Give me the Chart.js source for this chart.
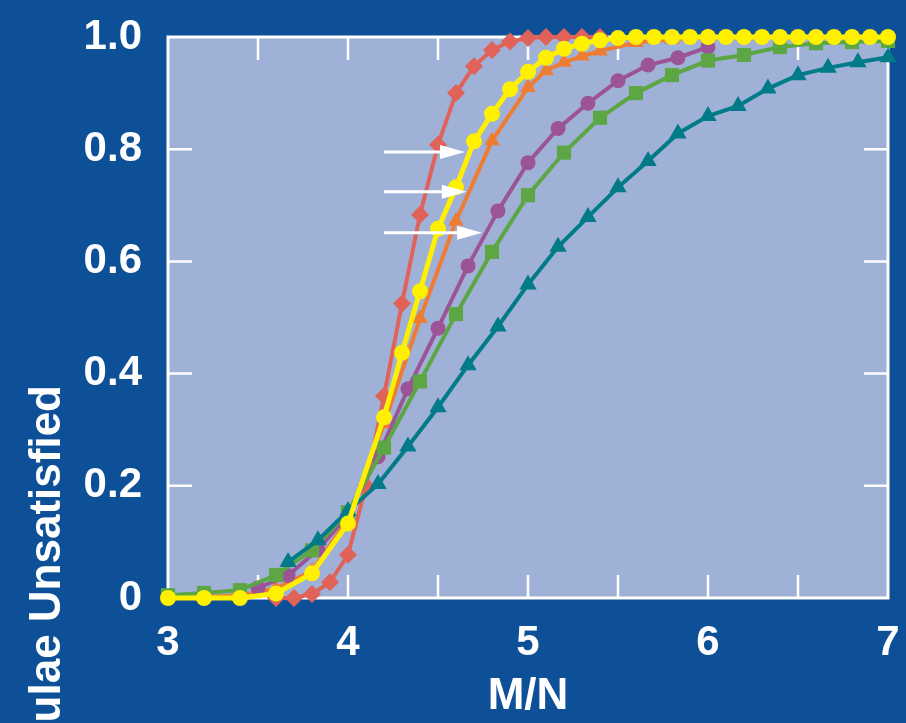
<!DOCTYPE html>
<html>
<head>
<meta charset="utf-8">
<script src="https://cdn.jsdelivr.net/npm/chart.js@4.4.1/dist/chart.umd.min.js"></script>
<style>
  html, body { margin: 0; padding: 0; background: #0e5098; }
  canvas { display: block; }
</style>
</head>
<body>
<canvas id="chart" width="906" height="723"></canvas>
<script>
// tick labels
const xTickLabels = ["3", "4", "5", "6", "7"];
const yTickLabels = ["0", "0.2", "0.4", "0.6", "0.8", "1.0"];

// red diamonds
const redX = [3.6, 3.7, 3.8, 3.9, 4.0, 4.1, 4.2, 4.3, 4.4, 4.5, 4.6, 4.7, 4.8, 4.9, 5.0, 5.1, 5.2, 5.3, 5.4];
const redY = [0, 0, 0.007, 0.028, 0.077, 0.2, 0.36, 0.525, 0.683, 0.808, 0.9, 0.948, 0.977, 0.992, 0.998, 1, 1, 1, 1];

// yellow circles
const yellowX = [3.0, 3.2, 3.4, 3.6, 3.8, 4.0, 4.2, 4.3, 4.4, 4.5, 4.6, 4.7, 4.8, 4.9, 5.0, 5.1, 5.2, 5.3, 5.4, 5.5,
  5.6, 5.7, 5.8, 5.9, 6.0, 6.1, 6.2, 6.3, 6.4, 6.5, 6.6, 6.7, 6.8, 6.9, 7.0];
const yellowY = [0, 0, 0, 0.008, 0.044, 0.133, 0.322, 0.437, 0.547, 0.658, 0.732, 0.814, 0.863, 0.907, 0.938, 0.963, 0.979, 0.988, 0.994, 0.998,
  1, 1, 1, 1, 1, 1, 1, 1, 1, 1, 1, 1, 1, 1, 1];

// orange triangles
const orangeX = [3.2, 3.4, 3.6, 3.8, 4.0, 4.2, 4.4, 4.6, 4.8, 5.0, 5.1, 5.2, 5.3, 5.4, 5.6, 5.8, 6.0];
const orangeY = [0.002, 0.005, 0.017, 0.048, 0.14, 0.31, 0.498, 0.672, 0.815, 0.91, 0.94, 0.955, 0.966, 0.975, 0.99, 0.996, 1];

// purple circles
const purpleX = [3.5, 3.667, 3.833, 4.0, 4.167, 4.333, 4.5, 4.667, 4.833, 5.0, 5.167, 5.333, 5.5, 5.667, 5.833, 6.0];
const purpleY = [0.018, 0.04, 0.086, 0.148, 0.252, 0.373, 0.481, 0.592, 0.69, 0.776, 0.837, 0.882, 0.922, 0.95, 0.963, 0.982];

// green squares
const greenX = [3.0, 3.2, 3.4, 3.6, 3.8, 4.0, 4.2, 4.4, 4.6, 4.8, 5.0, 5.2, 5.4, 5.6, 5.8, 6.0, 6.2, 6.4, 6.6, 6.8, 7.0];
const greenY = [0.005, 0.009, 0.014, 0.041, 0.085, 0.153, 0.268, 0.386, 0.506, 0.617, 0.718, 0.794, 0.856, 0.9, 0.932, 0.958, 0.968, 0.982, 0.989, 0.991, 0.993];

// teal triangles
const tealX = [3.667, 3.833, 4.0, 4.167, 4.333, 4.5, 4.667, 4.833, 5.0, 5.167, 5.333, 5.5, 5.667, 5.833, 6.0, 6.167, 6.333, 6.5, 6.667, 6.833, 7.0];
const tealY = [0.064, 0.103, 0.155, 0.203, 0.27, 0.34, 0.415, 0.484, 0.559, 0.626, 0.679, 0.732, 0.779, 0.828, 0.859, 0.877, 0.908, 0.932, 0.945, 0.955, 0.964];

// white arrows: [fromX, toX, y]
const arrows = [
  [4.2, 4.65, 0.795],
  [4.2, 4.66, 0.724],
  [4.2, 4.745, 0.651]
];

function pts(xs, ys) {
  return xs.map((x, i) => ({ x: x, y: ys[i] }));
}

function series(xs, ys, color, style, radius, width) {
  return {
    data: pts(xs, ys),
    borderColor: color,
    backgroundColor: color,
    pointBackgroundColor: color,
    pointBorderColor: color,
    pointStyle: style,
    pointRadius: radius,
    pointBorderWidth: 0,
    borderWidth: width,
    clip: false
  };
}

const framePlugin = {
  id: "framePlugin",
  beforeDraw(chart) {
    const { ctx, chartArea: a } = chart;
    ctx.save();
    ctx.fillStyle = "#0e5098";
    ctx.fillRect(0, 0, chart.width, chart.height);
    ctx.fillStyle = "#a0b1d8";
    ctx.fillRect(a.left, a.top, a.right - a.left, a.bottom - a.top);
    ctx.restore();
  },
  beforeDatasetsDraw(chart) {
    const { ctx, chartArea: a, scales } = chart;
    ctx.save();
    ctx.strokeStyle = "#ffffff";
    ctx.lineWidth = 3;
    ctx.strokeRect(a.left, a.top, a.right - a.left, a.bottom - a.top);

    // inward ticks
    ctx.lineWidth = 2.5;
    ctx.beginPath();
    scales.x.ticks.forEach(t => {
      const px = scales.x.getPixelForValue(t.value);
      if (px <= a.left + 2 || px >= a.right - 2) return;
      ctx.moveTo(px, a.bottom);
      ctx.lineTo(px, a.bottom - 23);
      ctx.moveTo(px, a.top);
      ctx.lineTo(px, a.top + 23);
    });
    scales.y.ticks.forEach(t => {
      const py = scales.y.getPixelForValue(t.value);
      if (py <= a.top + 2 || py >= a.bottom - 2) return;
      ctx.moveTo(a.left, py);
      ctx.lineTo(a.left + 24, py);
      ctx.moveTo(a.right, py);
      ctx.lineTo(a.right - 24, py);
    });
    ctx.stroke();
    ctx.restore();
  },
  afterDatasetsDraw(chart) {
    const { ctx, scales } = chart;
    ctx.save();
    ctx.strokeStyle = "#ffffff";
    ctx.fillStyle = "#ffffff";
    arrows.forEach(([x0, x1, y]) => {
      const sx = scales.x.getPixelForValue(x0);
      const ex = scales.x.getPixelForValue(x1);
      const py = scales.y.getPixelForValue(y);
      ctx.lineWidth = 3;
      ctx.beginPath();
      ctx.moveTo(sx, py);
      ctx.lineTo(ex - 22, py);
      ctx.stroke();
      ctx.beginPath();
      ctx.moveTo(ex, py);
      ctx.lineTo(ex - 25, py - 7);
      ctx.lineTo(ex - 25, py + 7);
      ctx.closePath();
      ctx.fill();
    });

    // y axis title, cut off at the left edge like the original slide
    ctx.translate(60, 385);
    ctx.rotate(-Math.PI / 2);
    ctx.font = "bold 44px 'Liberation Sans', Arial, sans-serif";
    ctx.textAlign = "right";
    ctx.textBaseline = "alphabetic";
    ctx.fillText("Fraction of Formulae Unsatisfied", 0, 0);
    ctx.restore();
  }
};

const fontFamily = "'Liberation Sans', Arial, sans-serif";

new Chart(document.getElementById("chart"), {
  type: "line",
  data: {
    datasets: [
      series(yellowX, yellowY, "#fff000", "circle", 8, 5),
      series(tealX, tealY, "#007b87", "triangle", 10, 4),
      series(greenX, greenY, "#5ca644", "rect", 10, 4),
      series(purpleX, purpleY, "#9b5496", "circle", 7.5, 4),
      series(orangeX, orangeY, "#ef7c33", "triangle", 9, 4),
      series(redX, redY, "#e06258", "rectRot", 9, 4)
    ]
  },
  options: {
    responsive: false,
    animation: false,
    layout: { padding: { top: 37, right: 18, left: 0, bottom: 0 } },
    plugins: {
      legend: { display: false },
      tooltip: { enabled: false }
    },
    scales: {
      x: {
        type: "linear",
        min: 3,
        max: 7,
        afterFit: s => {
          s.height = 125;
          s.paddingLeft = 0;
          s.paddingRight = 0;
        },
        grid: { display: false },
        border: { display: false },
        ticks: {
          stepSize: 0.5,
          autoSkip: false,
          maxRotation: 0,
          padding: 12,
          color: "#ffffff",
          font: { family: fontFamily, size: 42, weight: "bold" },
          callback: v => Number.isInteger(v) ? xTickLabels[v - 3] : ""
        },
        title: {
          display: true,
          text: "M/N",
          color: "#ffffff",
          padding: { top: 0, bottom: 0 },
          font: { family: fontFamily, size: 44, weight: "bold" }
        }
      },
      y: {
        min: 0,
        max: 1,
        afterFit: s => {
          s.width = 168;
          s.paddingTop = 0;
          s.paddingBottom = 0;
        },
        grid: { display: false },
        border: { display: false },
        ticks: {
          stepSize: 0.2,
          padding: 18,
          color: "#ffffff",
          font: { family: fontFamily, size: 42, weight: "bold" },
          callback: (v, i) => yTickLabels[i]
        }
      }
    }
  },
  plugins: [framePlugin]
});
</script>
</body>
</html>
